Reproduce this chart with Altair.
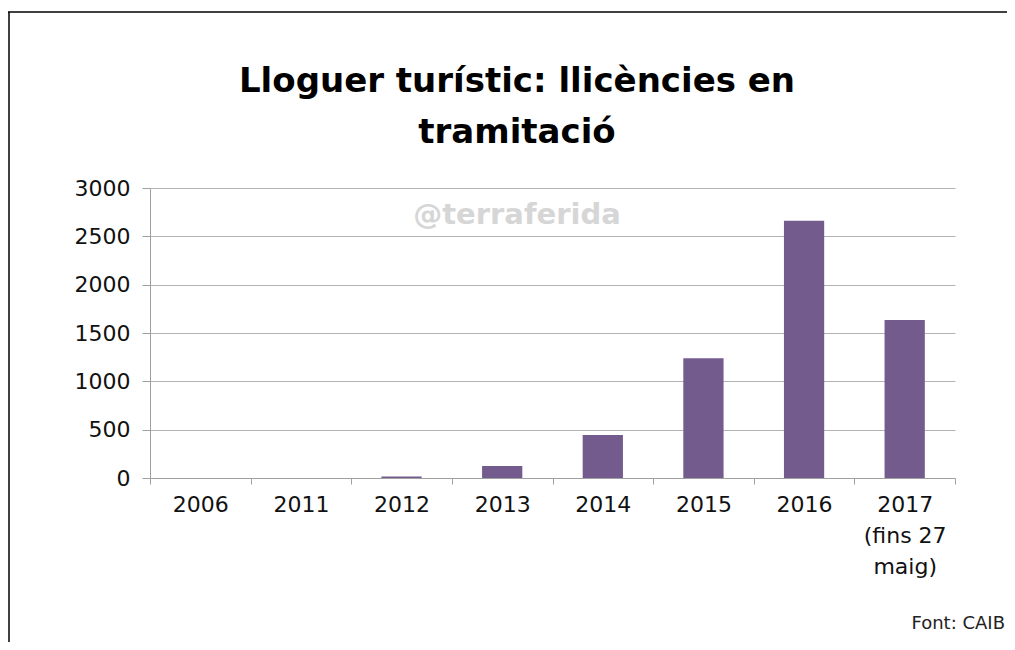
import altair as alt
import pandas as pd

categories = ["2006", "2011", "2012", "2013", "2014", "2015", "2016", "2017|(fins 27|maig)"]
values = [0, 0, 15, 125, 445, 1240, 2660, 1635]

title_lines = ["Lloguer turístic: llicències en", "tramitació"]
watermark = "@terraferida"
source = "Font: CAIB"
y_ticks = [0, 500, 1000, 1500, 2000, 2500, 3000]

df = pd.DataFrame({"cat": categories, "val": values})
one = pd.DataFrame({"k": [0]})

W, H = 805, 290
PL, PT, PR, PB = 142, 180, 52, 164
FONT = "DejaVu Sans"

bars = alt.Chart(df).mark_bar(color="#735b8d", width=alt.RelativeBandSize(0.4)).encode(
    x=alt.X("cat:N", sort=categories,
            scale=alt.Scale(paddingInner=0, paddingOuter=0),
            axis=alt.Axis(title=None, labelAngle=0, labelFontSize=22, labelFont=FONT,
                          labelColor="#111111", tickBand="extent", tickSize=6,
                          tickColor="#a0a0a0", domainColor="#a0a0a0", grid=False,
                          labelExpr="split(datum.label, '|')", labelLineHeight=31,
                          labelPadding=10, labelBaseline="top")),
    y=alt.Y("val:Q", scale=alt.Scale(domain=[0, 3000], nice=False),
            axis=alt.Axis(title=None, values=y_ticks, format="d", labelFontSize=22,
                          labelFont=FONT, labelColor="#111111", tickSize=8,
                          tickColor="#a0a0a0", domainColor="#a0a0a0",
                          gridColor="#b3b3b3", labelPadding=12)),
)

def txt(text, x, y, size, bold=False, color="#000000", align="center", font=FONT):
    return alt.Chart(one).mark_text(
        text=text, fontSize=size, fontWeight="bold" if bold else "normal",
        color=color, align=align, baseline="alphabetic", font=font
    ).encode(x=alt.value(x), y=alt.value(y))

t1 = txt(title_lines[0], 367, -96, 34, bold=True)
t2 = txt(title_lines[1], 367, -45, 34, bold=True)
wm = txt(watermark, 367, 36, 29, bold=True, color="#d6d6d6")
src = txt(source, 855, 441, 18, color="#222222", align="right")

top_border = alt.Chart(one).mark_rule(color="#000000", strokeWidth=1.5).encode(
    x=alt.value(-PL), x2=alt.value(W + PR), y=alt.value(-PT + 4), y2=alt.value(-PT + 4))
left_border = alt.Chart(one).mark_rule(color="#000000", strokeWidth=1.5).encode(
    x=alt.value(-PL + 1), x2=alt.value(-PL + 1), y=alt.value(-PT + 4), y2=alt.value(H + PB))

chart = alt.layer(wm, bars, t1, t2, src, top_border, left_border).properties(
    width=W, height=H,
    autosize=alt.AutoSizeParams(type="none"),
    padding={"left": PL, "top": PT, "right": PR, "bottom": PB},
    background="#ffffff",
).configure_view(strokeOpacity=0)

chart.save("out.html", embed_options={"renderer": "svg", "actions": False})
